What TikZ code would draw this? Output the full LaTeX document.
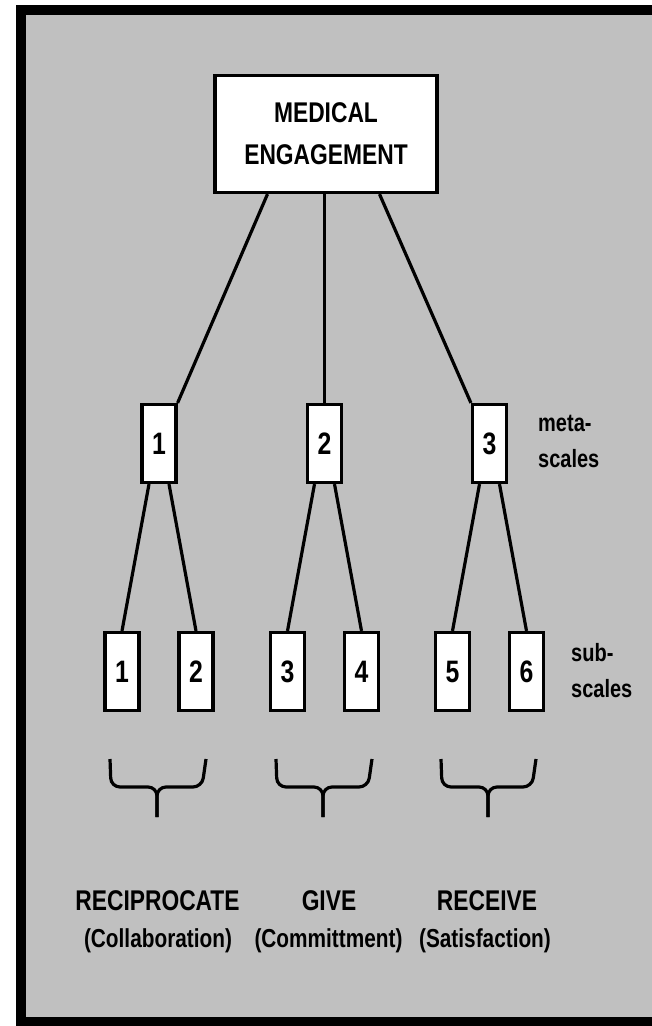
\documentclass[tikz,border=0pt]{standalone}
\usepackage{fontspec}
\setmainfont{Liberation Sans}[FakeStretch=0.8]
\usepackage{xcolor}
\usepackage{tikz}
\usetikzlibrary{positioning}

\definecolor{panelgray}{RGB}{192,192,192}

\newcommand{\boxfont}{\fontsize{28.5}{42}\selectfont\bfseries}
\newcommand{\numfont}{\fontsize{31}{33}\selectfont\bfseries}
\newcommand{\notefont}{\fontsize{25}{36}\selectfont\bfseries}
\newcommand{\subfont}{\fontsize{26}{30}\selectfont\bfseries}

\begin{document}
\begin{tikzpicture}[x=1pt,y=-1pt,
                    main node/.style={draw,fill=white,line width=3.2pt,align=center,inner sep=0pt,
                                      minimum width=222pt,minimum height=117pt,font=\boxfont},
                    scale node/.style={draw,fill=white,line width=3.2pt,inner sep=0pt,
                                       minimum width=34pt,minimum height=78pt,font=\numfont},
                    side note/.style={align=left,anchor=north west,inner sep=0pt,font=\notefont},
                    group name/.style={anchor=base,inner sep=0pt,font=\boxfont},
                    group sub/.style={anchor=base,inner sep=0pt,font=\subfont},
                    link/.style={line width=3.2pt},
                    group brace/.style={line width=3.2pt,rounded corners=9pt}]

  \useasboundingbox (0,0) rectangle (652,1026);
  \fill[white] (0,0) rectangle (652,1026);
  \begin{scope}
    \clip (0,0) rectangle (652,1026);
    \draw[line width=10pt,fill=panelgray] (20.5,10) rectangle (662,1022);
  \end{scope}

  \node[main node] (eng) at (326,134) {MEDICAL\\ENGAGEMENT};

  \node[scale node] (m1) at (159,443.5) {1};
  \node[scale node] (m2) at (324.5,443.5) {2};
  \node[scale node] (m3) at (489.5,443.5) {3};

  \node[scale node] (s1) [shift={(-37,228)}] at (m1) {1};
  \node[scale node] (s2) [shift={(37,228)}] at (m1) {2};
  \node[scale node] (s3) [shift={(-37,228)}] at (m2) {3};
  \node[scale node] (s4) [shift={(37,228)}] at (m2) {4};
  \node[scale node] (s5) [shift={(-37,228)}] at (m3) {5};
  \node[scale node] (s6) [shift={(37,228)}] at (m3) {6};

  \node[side note] (meta) at (538,415) {meta-\\scales};
  \node[side note] (sub) at (571,643) {sub-\\scales};

  \draw[link] ([xshift=-58.5pt]eng.south) -- (m1.north east);
  \draw[link] (m2.north) -- (m2.north |- eng.south);
  \draw[link] ([xshift=53.5pt]eng.south) -- (m3.north west);

  \draw[link] ([xshift=-10pt]m1.south) -- (s1.north);
  \draw[link] ([xshift=10pt]m1.south) -- (s2.north);
  \draw[link] ([xshift=-10pt]m2.south) -- (s3.north);
  \draw[link] ([xshift=10pt]m2.south) -- (s4.north);
  \draw[link] ([xshift=-10pt]m3.south) -- (s5.north);
  \draw[link] ([xshift=10pt]m3.south) -- (s6.north);

  \draw[group brace] (110,759) -- (111,787) -- (157,787) -- (157,817);
  \draw[group brace] (206,759) -- (202,787) -- (157,787) -- (157,817);
  \draw[group brace] (276,759) -- (277,787) -- (323,787) -- (323,817);
  \draw[group brace] (372,759) -- (368,787) -- (323,787) -- (323,817);
  \draw[group brace] (441,759) -- (442,787) -- (488,787) -- (488,817);
  \draw[group brace] (536,759) -- (532,787) -- (488,787) -- (488,817);

  \node[group name] (recip) at (157.5,910) {RECIPROCATE};
  \node[group sub] (collab) at (158,947) {(Collaboration)};
  \node[group name] (give) at (329,910) {GIVE};
  \node[group sub] (commit) at (328.5,947) {(Committment)};
  \node[group name] (recv) at (487,910) {RECEIVE};
  \node[group sub] (satis) at (485,947) {(Satisfaction)};

\end{tikzpicture}
\end{document}
